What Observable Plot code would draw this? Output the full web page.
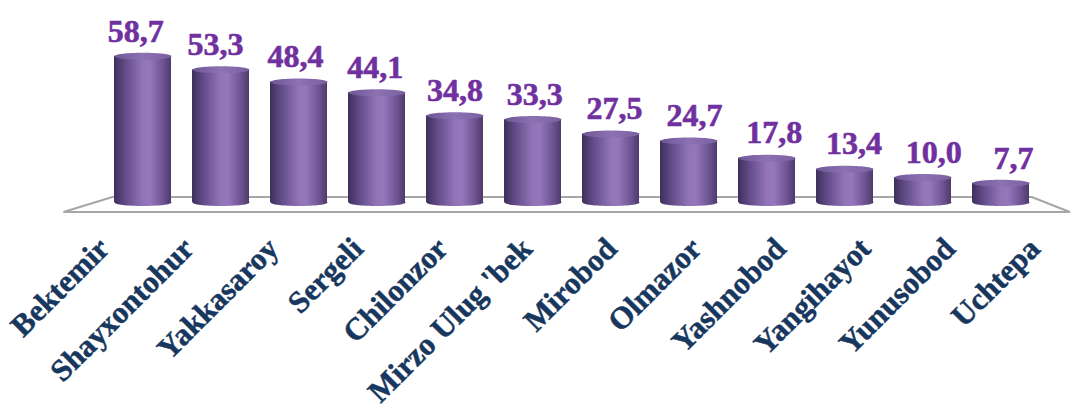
<!DOCTYPE html>
<html><head><meta charset="utf-8">
<script src="https://cdn.jsdelivr.net/npm/d3@7"></script>
<script src="https://cdn.jsdelivr.net/npm/@observablehq/plot@0.6"></script>
<style>html,body{margin:0;padding:0;background:#fff;overflow:hidden}</style>
</head><body><div id="chart"></div>
<script>
const districts = ["Bektemir","Shayxontohur","Yakkasaroy","Sergeli","Chilonzor","Mirzo Ulug 'bek","Mirobod","Olmazor","Yashnobod","Yangihayot","Yunusobod","Uchtepa"];
const values = [58.7, 53.3, 48.4, 44.1, 34.8, 33.3, 27.5, 24.7, 17.8, 13.4, 10.0, 7.7];
const valueLabels = ["58,7","53,3","48,4","44,1","34,8","33,3","27,5","24,7","17,8","13,4","10,0","7,7"];

const data = districts.map((d, i) => ({district: d, value: values[i], label: valueLabels[i], i}));

const W = 1072, H = 409;
const base = 202, pxPerUnit = 2.49;
const step = 78.2, firstCenter = 141.5;
const serif = "'Liberation Serif', 'Times New Roman', serif";

function ellipseSymbol(rx, ry) {
  const k = 0.5523;
  return {draw(ctx) {
    ctx.moveTo(rx, 0);
    ctx.bezierCurveTo(rx, ry * k, rx * k, ry, 0, ry);
    ctx.bezierCurveTo(-rx * k, ry, -rx, ry * k, -rx, 0);
    ctx.bezierCurveTo(-rx, -ry * k, -rx * k, -ry, 0, -ry);
    ctx.bezierCurveTo(rx * k, -ry, rx, -ry * k, rx, 0);
    ctx.closePath();
  }};
}
const bw = step * 0.73;
const ell = ellipseSymbol(bw / 2, 3.5);

const valueMarks = data.map(d => Plot.text([d], {
  x: "district", y: "value", text: "label",
  dx: (d.i - 4) * 1.8, dy: -25,
  fontSize: 32, fontWeight: "bold", fontFamily: serif,
  fill: "#7030A0", stroke: "#7030A0", strokeWidth: 0.6
}));
const nameMarks = data.map(d => Plot.text([d], {
  x: "district", y: () => 0, text: "district",
  dx: (d.i - 4.7) * 6.6 - 8, dy: 41,
  rotate: -45, textAnchor: "end",
  fontSize: 31, fontWeight: "bold", fontFamily: serif,
  fill: "#17375E", stroke: "#17375E", strokeWidth: 0.5
}));

const chart = Plot.plot({
  width: W, height: H,
  marginTop: 0, marginBottom: 0, marginLeft: 0, marginRight: 0,
  x: {domain: districts, range: [firstCenter - step / 2, firstCenter + 11 * step + step / 2], paddingInner: 0.27, paddingOuter: 0.135, axis: null},
  y: {domain: [0, 60], range: [base, base - 60 * pxPerUnit], axis: null},
  marks: [
    Plot.dot(data, {x: "district", y: () => 0, symbol: ell, fill: "url(#cylBody)", stroke: "none"}),
    Plot.barY(data, {x: "district", y: "value", fill: "url(#cylBody)"}),
    Plot.dot(data, {x: "district", y: "value", symbol: ell, fill: "url(#cylTop)", stroke: "none"}),
    ...valueMarks,
    ...nameMarks
  ]
});

const svg = d3.select(chart);
const defs = svg.insert("defs", ":first-child");
const g1 = defs.append("linearGradient").attr("id", "cylBody").attr("x1", 0).attr("x2", 1).attr("y1", 0).attr("y2", 0);
[[0, "#3e2f5a"], [0.18, "#5f4985"], [0.5, "#9174b8"], [0.62, "#9578bc"], [0.85, "#6f5594"], [1, "#4d3a6c"]]
  .forEach(([o, c]) => g1.append("stop").attr("offset", o).attr("stop-color", c));
const g2 = defs.append("linearGradient").attr("id", "cylTop").attr("x1", 0).attr("x2", 1).attr("y1", 0).attr("y2", 0);
[[0, "#6e5796"], [0.5, "#8d72b3"], [1, "#7a60a0"]]
  .forEach(([o, c]) => g2.append("stop").attr("offset", o).attr("stop-color", c));

const xs = chart.scale("x"), ys = chart.scale("y");
const xr = xs.range, y0 = ys.apply(0);
const floor = d3.path();
floor.moveTo(xr[0] - 39, y0 + 10);
floor.lineTo(xr[0] + 10, y0 - 5);
floor.lineTo(xr[1] - 9, y0 - 5);
floor.lineTo(xr[1] + 29, y0 + 10);
floor.closePath();
svg.insert("path", "g").attr("d", floor.toString()).attr("fill", "none").attr("stroke", "#a6a6a6").attr("stroke-width", 2.2);

document.getElementById("chart").appendChild(chart);
</script>
</body></html>
